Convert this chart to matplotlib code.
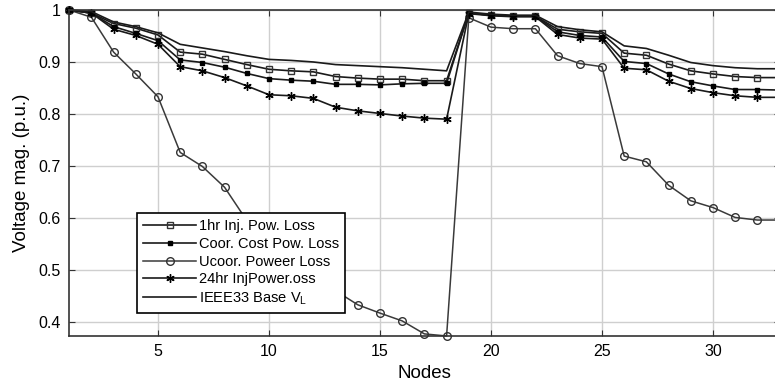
import numpy as np
import matplotlib.pyplot as plt

plt.rcParams['font.family'] = ['Liberation Sans', 'DejaVu Sans']

nodes = np.arange(1, 34)

# IEEE33 base voltage profile
base_vl = [1.0, 0.997, 0.977, 0.968, 0.956, 0.934, 0.927, 0.920, 0.912, 0.905,
           0.903, 0.900, 0.895, 0.893, 0.891, 0.889, 0.886, 0.883, 0.996, 0.992,
           0.990, 0.990, 0.968, 0.962, 0.958, 0.931, 0.926, 0.913, 0.899, 0.893,
           0.889, 0.887, 0.887]
inj_1hr = [1.0, 0.994, 0.974, 0.965, 0.952, 0.919, 0.915, 0.905, 0.895, 0.886,
           0.883, 0.881, 0.872, 0.869, 0.867, 0.867, 0.864, 0.864, 0.994, 0.990,
           0.988, 0.988, 0.963, 0.958, 0.955, 0.917, 0.913, 0.896, 0.883, 0.877,
           0.872, 0.870, 0.870]
coor_cost = [1.0, 0.994, 0.968, 0.955, 0.941, 0.904, 0.899, 0.890, 0.878, 0.868,
             0.865, 0.863, 0.857, 0.857, 0.856, 0.858, 0.859, 0.859, 0.994, 0.990,
             0.988, 0.988, 0.958, 0.951, 0.948, 0.901, 0.897, 0.877, 0.862, 0.854,
             0.847, 0.847, 0.846]
uncoor = [1.0, 0.986, 0.919, 0.877, 0.833, 0.726, 0.699, 0.659, 0.595, 0.560,
          0.525, 0.492, 0.460, 0.433, 0.417, 0.402, 0.377, 0.373, 0.985, 0.967,
          0.964, 0.964, 0.912, 0.897, 0.891, 0.719, 0.708, 0.663, 0.633, 0.620,
          0.601, 0.596, 0.596]
inj_24hr = [1.0, 0.994, 0.963, 0.951, 0.934, 0.891, 0.883, 0.870, 0.854, 0.837,
            0.835, 0.830, 0.813, 0.806, 0.801, 0.796, 0.792, 0.790, 0.993, 0.989,
            0.987, 0.987, 0.953, 0.946, 0.944, 0.888, 0.885, 0.863, 0.849, 0.841,
            0.835, 0.832, 0.832]

fig = plt.figure(figsize=(7.75, 3.92), dpi=100)
ax = fig.add_axes([0.0893, 0.1429, 0.9166, 0.8316])

dark = '#1a1a1a'
ax.plot(nodes, inj_1hr, color=dark, lw=1.2, marker='s', ms=4.5, mfc='none',
        mec='#333333', mew=1.0, clip_on=False, label='1hr Inj. Pow. Loss')
ax.plot(nodes, coor_cost, color=dark, lw=1.2, marker='s', ms=3.5, mfc='black',
        mec='black', clip_on=False, label='Coor. Cost Pow. Loss')
ax.plot(nodes, uncoor, color='#3a3a3a', lw=1.1, marker='o', ms=5.5, mfc='none',
        mec='#333333', mew=1.0, clip_on=False, label='Ucoor. Poweer Loss')
ax.plot(nodes, inj_24hr, color=dark, lw=1.2, marker=(6, 2, 0), ms=6, mec='black',
        mew=1.0, clip_on=False, label='24hr InjPower.oss')
ax.plot(nodes, base_vl, color=dark, lw=1.2, clip_on=False,
        label='IEEE33 Base V$_\\mathregular{L}$')

ax.set_xlim(1, 33)
ax.set_ylim(0.373, 1.0)
ax.set_xticks([5, 10, 15, 20, 25, 30])
ax.set_yticks([0.4, 0.5, 0.6, 0.7, 0.8, 0.9, 1.0])
ax.set_yticklabels(['0.4', '0.5', '0.6', '0.7', '0.8', '0.9', '1'])
ax.grid(True, color='#cfcfcf', lw=1.0)
ax.set_axisbelow(True)
ax.tick_params(direction='in', length=4, top=True, right=True, labelsize=11.5,
               color='#333333', pad=6)
for s in ax.spines.values():
    s.set_color('#333333')
    s.set_linewidth(1.2)

ax.set_xlabel('Nodes', fontsize=13.5, labelpad=4)
ax.set_ylabel('Voltage mag. (p.u.)', fontsize=13.5, labelpad=6)

leg = ax.legend(loc='lower left', bbox_to_anchor=(0.095, 0.07), fontsize=10.5,
                handlelength=3.6, frameon=True, fancybox=False, framealpha=1,
                edgecolor='black', borderaxespad=0, labelspacing=0.25,
                handletextpad=0.2, borderpad=0.45)
leg.set_zorder(10)
leg.get_frame().set_linewidth(1.2)

fig.savefig('out.png', dpi=100)
